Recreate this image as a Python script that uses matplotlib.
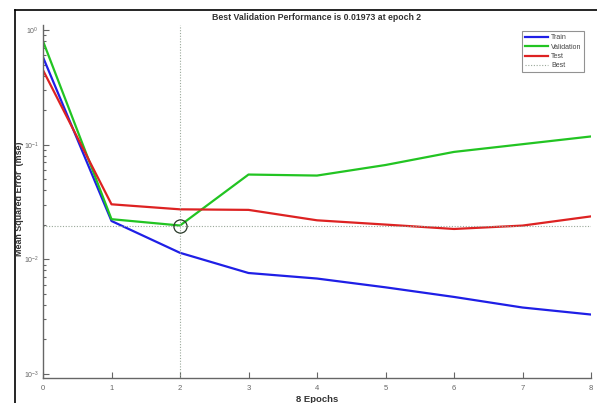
import matplotlib
matplotlib.use("Agg")
import matplotlib.pyplot as plt
from matplotlib.lines import Line2D
from matplotlib.ticker import LogLocator, FixedLocator

plt.rcParams['font.family'] = ['Liberation Sans', 'DejaVu Sans']

epochs = [0, 1, 2, 3, 4, 5, 6, 7, 8]
train = [0.58, 0.0216, 0.0114, 0.0076, 0.0068, 0.0057, 0.0047, 0.0038, 0.0033]
validation = [0.80, 0.0224, 0.01973, 0.0549, 0.0538, 0.0665, 0.0865, 0.101, 0.118]
test = [0.447, 0.0302, 0.0273, 0.0270, 0.0219, 0.0201, 0.0184, 0.0197, 0.0237]
best_epoch = 2
best_value = 0.01973
x_ticks = [0, 1, 2, 3, 4, 5, 6, 7, 8]
title = "Best Validation Performance is 0.01973 at epoch 2"

fig = plt.figure(figsize=(5.97, 4.03), dpi=100)
ax = fig.add_axes([43/597, 1-378/403, 548/597, 353/403])

axcol = '#666666'
ax.plot(epochs, train, color='#1f1fe6', lw=1.6, label='Train')
ax.plot(epochs, validation, color='#22c422', lw=1.6, label='Validation')
ax.plot(epochs, test, color='#dd2222', lw=1.6, label='Test')
ax.axhline(best_value, color='#9aa89a', lw=0.8, ls=(0, (1, 1.5)), label='Best')
ax.axvline(best_epoch, color='#9aa89a', lw=0.8, ls=(0, (1, 1.5)))
ax.plot([best_epoch], [best_value], marker='o', ms=9.5, mfc='none', mec='#2a3a2a', mew=0.9)

ax.set_yscale('log')
ax.set_xlim(0, 8)
ax.set_ylim(10**-3.035, 10**0.044)
ax.xaxis.set_major_locator(FixedLocator(x_ticks))
ax.yaxis.set_major_locator(LogLocator(base=10, numticks=10))
ax.yaxis.set_minor_locator(LogLocator(base=10, subs=range(2, 10), numticks=20))
ax.tick_params(axis='both', which='both', direction='in', colors=axcol, labelsize=5.5, width=0.8)
ax.tick_params(axis='y', labelsize=5)
ax.tick_params(which='major', length=4)
ax.tick_params(which='minor', length=2)
ax.tick_params(axis='x', pad=5)
ax.tick_params(axis='y', pad=3)
for s in ['top', 'right']:
    ax.spines[s].set_visible(False)
for s in ['left', 'bottom']:
    ax.spines[s].set_color(axcol)
    ax.spines[s].set_linewidth(1.0)

fig.text(317/597, 1-17/403, title, ha='center', va='center', fontsize=6.3, fontweight='bold', color='#333333')
fig.text(20/597, 1-199/403, 'Mean Squared Error  (mse)', rotation=90, ha='center', va='center',
         fontsize=6.4, fontweight='bold', color='#333333')
fig.text(317/597, 1-399/403, '8 Epochs', ha='center', va='center', fontsize=6.8, fontweight='bold', color='#333333')

leg = ax.legend(loc='upper right', bbox_to_anchor=(0.988, 0.982), fontsize=5, frameon=True, fancybox=False,
                edgecolor='#777777', handlelength=3.4, handletextpad=0.4, borderpad=0.4, labelspacing=0.35,
                borderaxespad=0)
leg.get_frame().set_linewidth(0.8)
for t in leg.get_texts():
    t.set_color('#444444')

# figure frame lines (top and left)
fig.add_artist(Line2D([15/597, 1], [1-10/403, 1-10/403], color='black', lw=1.2, transform=fig.transFigure))
fig.add_artist(Line2D([15/597, 15/597], [0, 1-10/403], color='black', lw=1.2, transform=fig.transFigure))

fig.savefig('out.png', dpi=100)
